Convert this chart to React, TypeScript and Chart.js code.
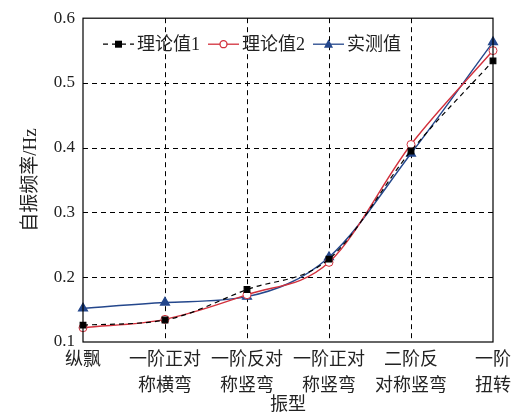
import React, { useEffect, useRef } from "react";
import { Chart, registerables } from "chart.js";

Chart.register(...registerables);

const categories: string[][] = [
  ["纵飘"],
  ["一阶正对", "称横弯"],
  ["一阶反对", "称竖弯"],
  ["一阶正对", "称竖弯"],
  ["二阶反", "对称竖弯"],
  ["一阶", "扭转"],
];
const theory1 = [0.126, 0.134, 0.181, 0.228, 0.395, 0.534];
const theory2 = [0.122, 0.135, 0.173, 0.223, 0.405, 0.55];
const measured = [0.152, 0.161, 0.170, 0.231, 0.391, 0.563];
const yTicks = [0.1, 0.2, 0.3, 0.4, 0.5, 0.6];
const seriesNames = ["理论值1", "理论值2", "实测值"];

const RED = "#d2303c";
const BLUE = "#24478c";
const SERIF = "'Liberation Serif', 'Noto Sans CJK SC', serif";

const gridPlugin = {
  id: "dashGrid",
  beforeDatasetsDraw(chart: any) {
    const { ctx, chartArea: a, scales } = chart;
    ctx.save();
    ctx.strokeStyle = "#000";
    ctx.lineWidth = 1;
    ctx.setLineDash([5, 4]);
    const xs = scales.x;
    for (let i = 1; i < categories.length - 1; i++) {
      const px = Math.round(xs.getPixelForValue(i)) + 0.5;
      ctx.beginPath();
      ctx.moveTo(px, a.top);
      ctx.lineTo(px, a.bottom);
      ctx.stroke();
    }
    const ys = scales.y;
    for (let i = 1; i < yTicks.length - 1; i++) {
      const py = Math.round(ys.getPixelForValue(yTicks[i])) + 0.5;
      ctx.beginPath();
      ctx.moveTo(a.left, py);
      ctx.lineTo(a.right, py);
      ctx.stroke();
    }
    ctx.restore();
  },
  afterDraw(chart: any) {
    const { ctx, chartArea: a } = chart;
    ctx.save();
    ctx.strokeStyle = "#000";
    ctx.lineWidth = 1.2;
    ctx.setLineDash([]);
    ctx.strokeRect(a.left, a.top, a.right - a.left, a.bottom - a.top);
    ctx.restore();
  },
};

const legendPlugin = {
  id: "customLegend",
  afterDraw(chart: any) {
    const { ctx, chartArea: a } = chart;
    const y = a.top + 26;
    let x = a.left + 20;
    ctx.save();
    ctx.font = "18px " + SERIF;
    ctx.textBaseline = "middle";
    const items = [
      { color: "#000", dash: [5, 4], marker: "square" },
      { color: RED, dash: [], marker: "circle" },
      { color: BLUE, dash: [], marker: "triangle" },
    ];
    items.forEach((it, i) => {
      const lw = 31;
      ctx.strokeStyle = it.color;
      ctx.lineWidth = 1.3;
      ctx.setLineDash(it.dash);
      ctx.beginPath();
      ctx.moveTo(x, y);
      ctx.lineTo(x + lw, y);
      ctx.stroke();
      ctx.setLineDash([]);
      const cx = x + lw / 2;
      if (it.marker === "square") {
        ctx.fillStyle = "#000";
        ctx.fillRect(cx - 3.5, y - 3.5, 7, 7);
      } else if (it.marker === "circle") {
        ctx.fillStyle = "#fff";
        ctx.beginPath();
        ctx.arc(cx, y, 3.5, 0, Math.PI * 2);
        ctx.fill();
        ctx.stroke();
      } else {
        ctx.fillStyle = BLUE;
        ctx.beginPath();
        ctx.moveTo(cx, y - 5);
        ctx.lineTo(cx + 4.5, y + 3.5);
        ctx.lineTo(cx - 4.5, y + 3.5);
        ctx.closePath();
        ctx.fill();
      }
      x += lw + 3;
      ctx.fillStyle = "#222";
      ctx.fillText(seriesNames[i], x, y + 1);
      x += ctx.measureText(seriesNames[i]).width + 8;
    });
    ctx.restore();
  },
};

export default function App() {
  const ref = useRef<HTMLCanvasElement>(null);
  useEffect(() => {
    if (!ref.current) return;
    const chart = new Chart(ref.current, {
      type: "line",
      data: {
        labels: categories as any,
        datasets: [
          {
            label: seriesNames[0],
            data: theory1,
            borderColor: "#000",
            backgroundColor: "#000",
            borderDash: [5, 4],
            borderWidth: 1.2,
            pointStyle: "rect",
            pointRadius: 4,
            cubicInterpolationMode: "monotone",
            clip: false as any,
          },
          {
            label: seriesNames[1],
            data: theory2,
            borderColor: RED,
            backgroundColor: "#fff",
            borderWidth: 1.4,
            pointStyle: "circle",
            pointRadius: 4,
            pointBorderWidth: 1,
            cubicInterpolationMode: "monotone",
            clip: false as any,
          },
          {
            label: seriesNames[2],
            data: measured,
            borderColor: BLUE,
            backgroundColor: BLUE,
            borderWidth: 1.4,
            pointStyle: "triangle",
            pointRadius: 5,
            cubicInterpolationMode: "monotone",
            clip: false as any,
          },
        ],
      },
      options: {
        animation: false,
        responsive: false,
        layout: { padding: { top: 14, right: 37, bottom: 0, left: 0 } },
        plugins: { legend: { display: false }, tooltip: { enabled: false } },
        scales: {
          x: {
            type: "category",
            offset: false,
            grid: { display: false, drawTicks: false },
            border: { display: false },
            ticks: {
              color: "#222",
              font: { size: 18, family: SERIF, lineHeight: 1.45 },
              padding: 5,
              maxRotation: 0,
              autoSkip: false,
            },
            title: {
              display: true,
              text: "振型",
              color: "#222",
              font: { size: 18, family: SERIF },
              padding: { top: 0, bottom: 2 },
            },
            afterFit(scale: any) {
              scale.height = 76;
            },
          },
          y: {
            min: 0.1,
            max: 0.6,
            afterBuildTicks(scale: any) {
              scale.ticks = yTicks.map((v) => ({ value: v }));
            },
            grid: { display: false, drawTicks: false },
            border: { display: false },
            ticks: {
              color: "#222",
              font: { size: 17, family: SERIF },
              padding: 8,
              callback: (v: any) => Number(v).toFixed(1),
            },
            title: {
              display: true,
              text: "自振频率/Hz",
              color: "#222",
              font: { size: 19, family: SERIF },
              padding: { top: 20, bottom: 4 },
            },
            afterFit(scale: any) {
              scale.width = 83;
            },
          },
        },
      } as any,
      plugins: [gridPlugin, legendPlugin],
    });
    return () => chart.destroy();
  }, []);
  return (
    <div style={{ position: "fixed", left: 0, top: 0, width: 530, height: 418, background: "#fff" }}>
      <canvas ref={ref} width={530} height={418} />
    </div>
  );
}
